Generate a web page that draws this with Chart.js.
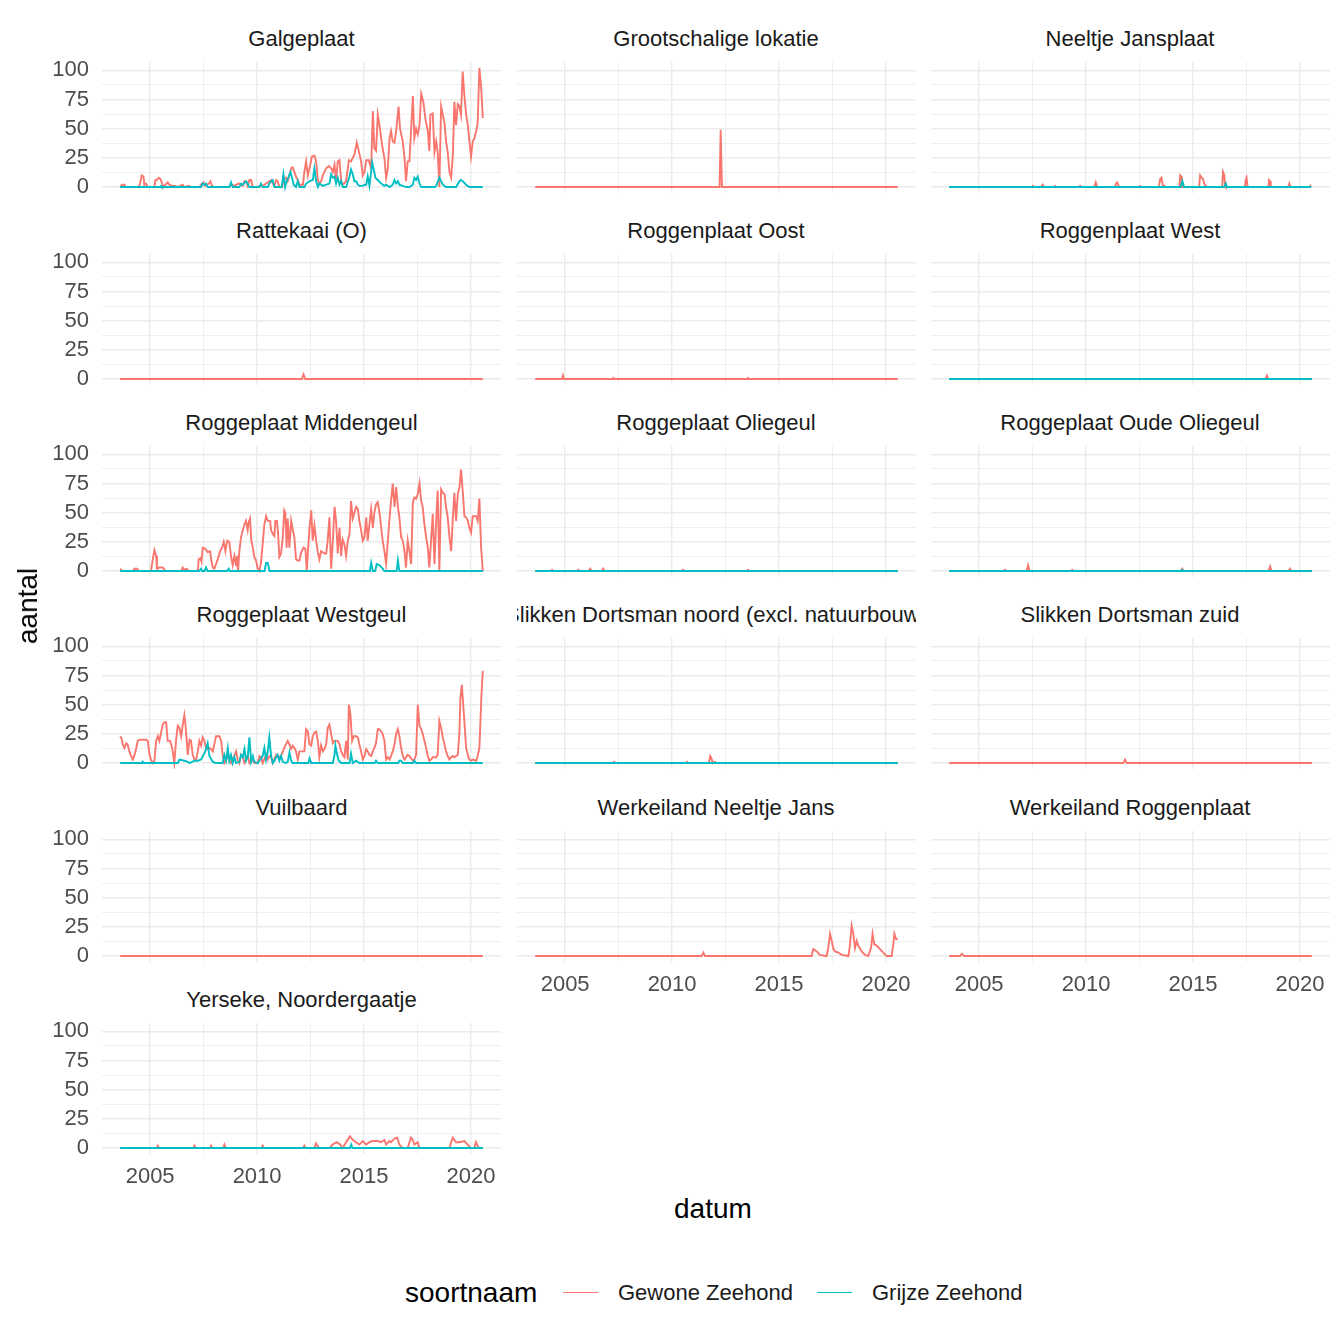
<!DOCTYPE html>
<html>
<head>
<meta charset="utf-8">
<script src="https://cdn.jsdelivr.net/npm/chart.js@4"></script>
<style>
  html, body { margin: 0; padding: 0; background: #fff; }
  body { width: 1344px; height: 1344px; position: relative; overflow: hidden;
         font-family: "Liberation Sans", Arial, sans-serif; }
  .panel { position: absolute; }
  .strip { position: absolute; display: flex; justify-content: center; overflow: hidden;
           white-space: nowrap; font-size: 22px; color: #1A1A1A; height: 26px; line-height: 26px; }
  .txt { position: absolute; white-space: nowrap; }
  .key { position: absolute; height: 0; }
</style>
</head>
<body>
<div id="root"></div>
<script>
// facet names (in ggplot facet order)
const panelNames = [
  "Galgeplaat", "Grootschalige lokatie", "Neeltje Jansplaat",
  "Rattekaai (O)", "Roggenplaat Oost", "Roggenplaat West",
  "Roggeplaat Middengeul", "Roggeplaat Oliegeul", "Roggeplaat Oude Oliegeul",
  "Roggeplaat Westgeul", "Slikken Dortsman noord (excl. natuurbouw)", "Slikken Dortsman zuid",
  "Vuilbaard", "Werkeiland Neeltje Jans", "Werkeiland Roggenplaat",
  "Yerseke, Noordergaatje"
];
const seriesNames = ["Gewone Zeehond", "Grijze Zeehond"];
const seriesColors = ["#F8766D", "#00BFC4"];

const xTicks = [2005, 2007.5, 2010, 2012.5, 2015, 2017.5, 2020];
const yTicks = [0, 12.5, 25, 37.5, 50, 62.5, 75, 87.5, 100];

// [datum (decimal year), aantal]
const galgeplaatGewone = [[2003.60,0],[2003.68,2],[2003.80,2],[2003.88,0],[2004.47,0],[2004.53,3],[2004.61,10],[2004.69,9],[2004.73,2],[2004.81,3],[2004.89,0],[2005.20,0],[2005.25,6],[2005.31,6],[2005.40,8],[2005.48,7],[2005.56,3],[2005.64,0],[2005.71,2],[2005.82,4],[2005.90,2],[2006.03,1],[2006.18,1],[2006.29,0],[2006.52,2],[2006.60,0],[2006.80,1],[2006.91,0],[2007.30,0],[2007.38,2],[2007.49,4],[2007.58,1],[2007.74,3],[2007.82,5],[2007.89,1],[2008.00,0],[2008.70,0],[2008.78,2],[2008.94,1],[2009.02,2],[2009.17,3],[2009.33,1],[2009.41,5],[2009.48,5],[2009.56,1],[2009.64,6],[2009.72,6],[2009.79,0],[2009.95,0],[2010.26,1],[2010.42,3],[2010.57,5],[2010.65,6],[2010.73,3],[2010.81,1],[2010.89,6],[2010.96,5],[2011.04,0],[2011.17,0],[2011.24,6],[2011.35,8],[2011.43,5],[2011.51,10],[2011.59,16],[2011.66,17],[2011.74,13],[2011.82,9],[2011.90,6],[2011.98,2],[2012.14,2],[2012.21,13],[2012.29,22],[2012.37,10],[2012.45,16],[2012.56,26],[2012.68,27],[2012.76,22],[2012.84,6],[2012.91,3],[2012.99,5],[2013.07,10],[2013.23,16],[2013.35,18],[2013.46,16],[2013.54,13],[2013.62,19],[2013.69,5],[2013.77,22],[2013.85,23],[2013.93,5],[2014.00,2],[2014.16,5],[2014.29,23],[2014.39,22],[2014.55,28],[2014.66,38],[2014.75,31],[2014.86,22],[2014.94,10],[2015.02,13],[2015.10,23],[2015.22,23],[2015.33,16],[2015.41,65],[2015.48,33],[2015.56,31],[2015.64,62],[2015.72,53],[2015.80,42],[2015.87,33],[2015.95,25],[2016.03,8],[2016.11,16],[2016.19,42],[2016.26,48],[2016.34,39],[2016.42,38],[2016.50,48],[2016.61,69],[2016.68,50],[2016.81,39],[2016.89,25],[2016.96,5],[2017.04,22],[2017.12,22],[2017.28,78],[2017.35,42],[2017.43,50],[2017.51,45],[2017.59,53],[2017.67,80],[2017.77,73],[2017.87,58],[2017.98,48],[2018.05,31],[2018.10,62],[2018.21,63],[2018.29,30],[2018.37,39],[2018.44,30],[2018.52,0],[2018.60,69],[2018.68,62],[2018.76,55],[2018.83,39],[2018.91,30],[2018.99,13],[2019.07,8],[2019.15,28],[2019.22,73],[2019.30,53],[2019.38,71],[2019.46,69],[2019.53,62],[2019.61,99],[2019.69,78],[2019.77,62],[2019.85,53],[2019.92,40],[2020.00,26],[2020.08,39],[2020.16,42],[2020.24,48],[2020.31,55],[2020.39,102],[2020.47,86],[2020.55,59]];
const galgeplaatGrijze = [[2003.60,0],[2005.47,0],[2005.51,1],[2005.55,0],[2007.38,0],[2007.46,3],[2007.53,2],[2007.61,3],[2007.69,0],[2008.70,0],[2008.78,4],[2008.86,0],[2009.17,0],[2009.25,3],[2009.33,2],[2009.48,5],[2009.56,3],[2009.64,0],[2010.10,0],[2010.18,3],[2010.26,0],[2010.50,0],[2010.57,3],[2010.65,5],[2010.73,6],[2010.81,0],[2011.15,0],[2011.23,11],[2011.31,0],[2011.38,5],[2011.48,9],[2011.56,13],[2011.63,8],[2011.71,2],[2011.82,0],[2011.90,5],[2011.98,0],[2012.21,0],[2012.29,3],[2012.45,5],[2012.60,6],[2012.68,16],[2012.76,5],[2012.84,0],[2012.91,3],[2013.07,1],[2013.23,2],[2013.38,3],[2013.46,11],[2013.54,8],[2013.62,9],[2013.69,3],[2013.77,8],[2013.85,2],[2013.93,5],[2014.00,0],[2014.16,0],[2014.32,9],[2014.39,15],[2014.47,11],[2014.55,5],[2014.63,5],[2014.71,2],[2014.78,1],[2014.94,1],[2015.02,2],[2015.10,2],[2015.17,9],[2015.25,1],[2015.33,13],[2015.38,21],[2015.44,16],[2015.53,8],[2015.64,6],[2015.80,3],[2015.95,1],[2016.03,2],[2016.19,0],[2016.34,2],[2016.42,6],[2016.50,3],[2016.58,5],[2016.65,2],[2016.81,1],[2016.96,0],[2017.12,0],[2017.28,2],[2017.35,8],[2017.43,6],[2017.51,9],[2017.59,3],[2017.67,0],[2018.30,0],[2018.37,1],[2018.52,8],[2018.60,5],[2018.68,2],[2018.83,0],[2019.30,0],[2019.46,5],[2019.53,6],[2019.61,5],[2019.77,2],[2019.92,0],[2020.55,0]];

const grootschaligGewone = [[2003.60,0],[2012.22,0],[2012.27,49],[2012.33,0],[2020.55,0]];

const neeltjeJansplaatGewone = [[2003.60,0],[2007.45,0],[2007.51,1],[2007.57,0],[2007.90,0],[2007.97,2],[2008.05,0],[2008.50,0],[2008.55,1],[2008.60,0],[2009.66,0],[2009.72,1],[2009.78,0],[2010.38,0],[2010.45,4],[2010.52,0],[2011.34,0],[2011.40,3],[2011.45,4],[2011.55,0],[2012.47,0],[2012.52,1],[2012.57,0],[2013.40,0],[2013.46,7],[2013.52,8],[2013.58,2],[2013.66,1],[2013.72,0],[2014.33,0],[2014.36,1],[2014.40,10],[2014.45,9],[2014.48,0],[2015.28,0],[2015.33,10],[2015.40,8],[2015.46,7],[2015.52,3],[2015.60,1],[2015.66,0],[2016.36,0],[2016.40,13],[2016.46,10],[2016.50,1],[2016.53,0],[2017.42,0],[2017.46,6],[2017.50,8],[2017.55,0],[2018.52,0],[2018.55,6],[2018.60,5],[2018.63,0],[2019.44,0],[2019.50,3],[2019.56,0],[2020.45,0],[2020.48,1],[2020.52,0]];
const neeltjeJansplaatGrijze = [[2003.60,0],[2014.42,0],[2014.50,5],[2014.58,0],[2016.45,0],[2016.53,3],[2016.58,0],[2020.52,0]];

const rattekaaiGewone = [[2003.60,0],[2012.10,0],[2012.17,4],[2012.25,0],[2020.55,0]];

const roggenplaatOostGewone = [[2003.60,0],[2004.85,0],[2004.90,3],[2004.95,0],[2007.20,0],[2007.25,1],[2007.30,0],[2013.50,0],[2013.55,1],[2013.60,0],[2020.55,0]];

const roggenplaatWestGewone = [[2003.60,0],[2018.38,0],[2018.45,3],[2018.52,0],[2020.55,0]];
const roggenplaatWestGrijze = [[2003.60,0],[2020.55,0]];

const middengeulGewone = [[2003.60,2],[2003.69,0],[2004.19,0],[2004.27,2],[2004.39,2],[2004.47,0],[2005.04,0],[2005.09,6],[2005.15,13],[2005.20,18],[2005.28,13],[2005.32,2],[2005.43,3],[2005.59,3],[2005.67,1],[2005.75,0],[2006.45,0],[2006.52,3],[2006.60,1],[2006.71,2],[2006.80,0],[2007.23,0],[2007.27,10],[2007.35,11],[2007.40,8],[2007.46,20],[2007.58,19],[2007.69,16],[2007.80,17],[2007.86,9],[2007.93,3],[2008.00,2],[2008.08,6],[2008.16,10],[2008.27,17],[2008.36,20],[2008.44,25],[2008.52,17],[2008.60,26],[2008.70,25],[2008.78,13],[2008.86,5],[2008.94,13],[2009.02,5],[2009.06,13],[2009.11,0],[2009.17,17],[2009.25,29],[2009.33,35],[2009.41,40],[2009.48,43],[2009.56,35],[2009.61,42],[2009.67,45],[2009.73,26],[2009.80,20],[2009.87,12],[2009.95,9],[2010.03,2],[2010.11,0],[2010.18,7],[2010.26,23],[2010.34,40],[2010.42,47],[2010.50,43],[2010.61,43],[2010.65,35],[2010.73,32],[2010.81,30],[2010.85,43],[2010.93,43],[2010.98,32],[2011.04,12],[2011.12,15],[2011.20,29],[2011.27,52],[2011.32,50],[2011.38,20],[2011.43,45],[2011.51,20],[2011.59,43],[2011.66,36],[2011.74,29],[2011.82,10],[2011.90,9],[2011.98,9],[2012.06,16],[2012.17,20],[2012.26,19],[2012.32,0],[2012.37,15],[2012.45,37],[2012.53,52],[2012.60,26],[2012.68,39],[2012.76,26],[2012.84,16],[2012.91,10],[2012.99,17],[2013.15,15],[2013.23,15],[2013.30,26],[2013.38,46],[2013.46,2],[2013.54,26],[2013.62,55],[2013.69,43],[2013.77,15],[2013.85,37],[2013.93,13],[2014.00,27],[2014.08,23],[2014.16,13],[2014.24,26],[2014.32,32],[2014.39,60],[2014.47,45],[2014.63,55],[2014.71,53],[2014.78,43],[2014.86,35],[2014.94,26],[2015.02,29],[2015.10,46],[2015.17,26],[2015.25,40],[2015.33,53],[2015.41,37],[2015.48,50],[2015.56,57],[2015.64,59],[2015.72,50],[2015.80,37],[2015.87,26],[2015.95,17],[2016.03,6],[2016.11,26],[2016.19,45],[2016.26,60],[2016.34,75],[2016.42,55],[2016.50,72],[2016.58,55],[2016.65,46],[2016.73,29],[2016.81,26],[2016.89,17],[2016.96,3],[2017.04,26],[2017.12,17],[2017.20,6],[2017.28,59],[2017.35,63],[2017.43,62],[2017.51,66],[2017.59,75],[2017.67,60],[2017.74,55],[2017.82,40],[2017.90,29],[2017.98,20],[2018.05,3],[2018.13,26],[2018.21,49],[2018.29,6],[2018.37,43],[2018.44,69],[2018.52,0],[2018.60,70],[2018.68,67],[2018.76,66],[2018.83,55],[2018.91,46],[2018.99,29],[2019.07,17],[2019.15,46],[2019.22,67],[2019.30,43],[2019.38,66],[2019.46,72],[2019.53,87],[2019.61,69],[2019.69,47],[2019.77,46],[2019.85,43],[2019.92,37],[2020.00,33],[2020.08,47],[2020.24,47],[2020.31,43],[2020.39,62],[2020.47,20],[2020.55,0]];
const middengeulGrijze = [[2003.60,0],[2007.30,0],[2007.38,2],[2007.43,0],[2007.55,0],[2007.61,3],[2007.69,0],[2008.60,0],[2008.67,2],[2008.72,0],[2010.35,0],[2010.42,7],[2010.50,7],[2010.58,0],[2015.27,0],[2015.33,7],[2015.41,0],[2015.52,0],[2015.59,6],[2015.72,5],[2015.87,2],[2015.95,0],[2016.52,0],[2016.58,9],[2016.65,0],[2020.55,0]];

const oliegeulGewone = [[2003.60,0],[2004.33,0],[2004.39,1],[2004.45,0],[2005.55,0],[2005.61,1],[2005.67,0],[2006.11,0],[2006.17,2],[2006.23,0],[2006.72,0],[2006.78,2],[2006.84,0],[2010.45,0],[2010.51,1],[2010.57,0],[2013.49,0],[2013.55,1],[2013.61,0],[2020.55,0]];
const oliegeulGrijze = [[2003.60,0],[2020.55,0]];

const oudeOliegeulGewone = [[2003.60,0],[2006.15,0],[2006.21,1],[2006.27,0],[2007.22,0],[2007.29,5],[2007.36,0],[2009.29,0],[2009.35,1],[2009.41,0],[2014.43,0],[2014.49,2],[2014.55,0],[2018.53,0],[2018.60,4],[2018.67,0],[2019.47,0],[2019.53,2],[2019.59,0],[2020.55,0]];
const oudeOliegeulGrijze = [[2003.60,0],[2014.43,0],[2014.49,1],[2014.55,0],[2020.55,0]];

const westgeulGewone = [[2003.60,23],[2003.67,21],[2003.72,16],[2003.80,13],[2003.88,17],[2003.95,16],[2004.03,10],[2004.11,6],[2004.19,3],[2004.27,7],[2004.34,12],[2004.42,19],[2004.50,20],[2004.66,20],[2004.81,20],[2004.89,19],[2004.97,7],[2005.04,3],[2005.12,0],[2005.20,2],[2005.28,19],[2005.36,23],[2005.43,19],[2005.51,26],[2005.59,33],[2005.67,35],[2005.75,35],[2005.82,19],[2005.93,19],[2006.03,13],[2006.13,0],[2006.21,19],[2006.29,32],[2006.37,30],[2006.45,23],[2006.52,32],[2006.60,41],[2006.65,33],[2006.71,19],[2006.76,7],[2006.84,20],[2006.91,19],[2006.99,7],[2007.07,3],[2007.15,3],[2007.23,10],[2007.30,19],[2007.38,15],[2007.46,22],[2007.54,19],[2007.61,13],[2007.69,12],[2007.77,13],[2007.85,12],[2007.93,10],[2008.00,16],[2008.08,23],[2008.24,23],[2008.32,19],[2008.39,7],[2008.47,0],[2008.55,3],[2008.63,6],[2008.70,3],[2008.78,0],[2008.86,3],[2009.02,10],[2009.09,3],[2009.17,0],[2009.25,7],[2009.33,5],[2009.41,0],[2009.48,3],[2009.56,7],[2009.64,0],[2009.80,3],[2009.87,0],[2010.03,0],[2010.11,6],[2010.18,5],[2010.26,0],[2010.42,7],[2010.50,3],[2010.57,6],[2010.65,5],[2010.73,0],[2010.89,7],[2010.96,5],[2011.12,6],[2011.27,13],[2011.43,19],[2011.51,16],[2011.59,12],[2011.66,15],[2011.74,13],[2011.82,10],[2011.90,3],[2011.98,10],[2012.21,10],[2012.29,29],[2012.37,27],[2012.45,16],[2012.53,15],[2012.60,23],[2012.68,26],[2012.76,27],[2012.84,19],[2012.91,5],[2012.99,15],[2013.07,10],[2013.15,12],[2013.23,16],[2013.30,30],[2013.38,33],[2013.46,25],[2013.54,17],[2013.62,19],[2013.77,19],[2013.85,16],[2013.93,10],[2014.00,7],[2014.08,5],[2014.16,19],[2014.24,3],[2014.29,50],[2014.36,42],[2014.44,19],[2014.52,23],[2014.63,23],[2014.71,22],[2014.78,16],[2014.86,10],[2014.94,3],[2015.02,6],[2015.10,12],[2015.17,10],[2015.25,7],[2015.33,6],[2015.41,10],[2015.48,13],[2015.56,17],[2015.64,29],[2015.72,29],[2015.80,27],[2015.87,25],[2015.95,19],[2016.03,3],[2016.11,5],[2016.19,3],[2016.26,6],[2016.34,10],[2016.42,16],[2016.50,25],[2016.58,29],[2016.65,23],[2016.73,13],[2016.81,6],[2016.89,3],[2016.96,5],[2017.04,7],[2017.12,6],[2017.28,2],[2017.35,3],[2017.43,7],[2017.51,50],[2017.59,32],[2017.67,29],[2017.74,25],[2017.82,19],[2017.90,13],[2017.98,6],[2018.05,2],[2018.13,3],[2018.21,5],[2018.37,5],[2018.44,7],[2018.52,36],[2018.60,30],[2018.68,22],[2018.76,16],[2018.83,10],[2018.91,6],[2018.99,3],[2019.07,5],[2019.15,6],[2019.22,5],[2019.30,6],[2019.38,7],[2019.46,27],[2019.50,55],[2019.57,67],[2019.61,56],[2019.69,35],[2019.77,13],[2019.85,7],[2019.92,3],[2020.00,2],[2020.08,3],[2020.24,2],[2020.31,6],[2020.39,13],[2020.44,36],[2020.48,56],[2020.55,79]];
const westgeulGrijze = [[2003.60,0],[2004.63,0],[2004.66,1],[2004.73,0],[2006.30,0],[2006.37,3],[2006.60,2],[2006.76,1],[2006.84,0],[2007.07,2],[2007.23,2],[2007.38,3],[2007.58,10],[2007.69,17],[2007.77,6],[2007.93,1],[2008.08,0],[2008.39,0],[2008.47,7],[2008.55,2],[2008.63,13],[2008.70,2],[2008.78,7],[2008.86,0],[2008.94,5],[2009.02,0],[2009.17,1],[2009.25,7],[2009.33,5],[2009.41,12],[2009.48,2],[2009.56,5],[2009.64,22],[2009.72,1],[2009.80,6],[2009.87,1],[2010.03,0],[2010.11,2],[2010.26,6],[2010.34,13],[2010.42,3],[2010.50,10],[2010.57,22],[2010.65,7],[2010.73,0],[2010.81,2],[2010.89,5],[2010.96,7],[2011.04,2],[2011.12,6],[2011.20,1],[2011.35,0],[2011.43,1],[2011.51,9],[2011.59,2],[2011.66,0],[2012.40,0],[2012.45,4],[2012.53,0],[2013.54,0],[2013.62,7],[2013.66,15],[2013.74,7],[2013.82,2],[2013.93,0],[2014.32,0],[2014.39,8],[2014.47,0],[2014.63,2],[2014.78,0],[2015.50,0],[2015.56,2],[2015.64,0],[2016.60,0],[2016.65,2],[2016.73,2],[2016.81,0],[2017.30,0],[2017.35,2],[2017.43,0],[2020.55,0]];

const dortsmanNoordGewone = [[2003.60,0],[2007.23,0],[2007.29,1],[2007.35,0],[2010.64,0],[2010.70,1],[2010.76,0],[2011.72,0],[2011.78,6],[2011.84,4],[2011.90,0],[2012.00,1],[2012.06,0],[2020.55,0]];
const dortsmanNoordGrijze = [[2003.60,0],[2020.55,0]];

const dortsmanZuidGewone = [[2003.60,0],[2011.74,0],[2011.82,3],[2011.90,0],[2020.55,0]];

const vuilbaardGewone = [[2003.60,0],[2020.55,0]];

const werkeilandNJGewone = [[2003.60,0],[2011.38,0],[2011.46,3],[2011.54,0],[2016.52,0],[2016.60,6],[2016.76,4],[2016.91,1],[2017.22,0],[2017.30,7],[2017.38,19],[2017.46,13],[2017.54,6],[2017.61,4],[2017.77,3],[2017.93,1],[2018.24,0],[2018.31,9],[2018.39,26],[2018.47,19],[2018.55,7],[2018.63,13],[2018.70,9],[2018.86,4],[2019.02,1],[2019.17,0],[2019.30,7],[2019.37,19],[2019.45,10],[2019.56,9],[2019.72,6],[2019.87,3],[2020.03,0],[2020.26,0],[2020.34,10],[2020.39,19],[2020.46,15],[2020.54,14]];

const werkeilandRPGewone = [[2003.60,0],[2004.12,0],[2004.20,2],[2004.30,0],[2020.55,0]];

const yersekeGewone = [[2003.60,0],[2005.30,0],[2005.36,2],[2005.42,0],[2007.01,0],[2007.07,2],[2007.13,0],[2007.79,0],[2007.85,2],[2007.91,0],[2008.41,0],[2008.47,3],[2008.53,0],[2010.20,0],[2010.26,2],[2010.32,0],[2012.15,0],[2012.21,2],[2012.27,0],[2012.68,0],[2012.75,4],[2012.90,0],[2013.38,0],[2013.53,3],[2013.72,5],[2013.88,3],[2014.00,0],[2014.23,7],[2014.34,10],[2014.47,7],[2014.62,5],[2014.78,3],[2014.94,6],[2015.09,3],[2015.25,5],[2015.40,6],[2015.64,6],[2015.79,5],[2015.95,7],[2016.03,3],[2016.18,6],[2016.26,5],[2016.41,8],[2016.54,9],[2016.65,3],[2016.80,0],[2017.04,0],[2017.19,9],[2017.27,7],[2017.35,3],[2017.51,5],[2017.58,0],[2018.99,0],[2019.14,9],[2019.30,5],[2019.45,5],[2019.69,6],[2019.84,3],[2020.00,0],[2020.15,0],[2020.23,5],[2020.31,2],[2020.39,0],[2020.55,0]];
const yersekeGrijze = [[2003.60,0],[2014.34,0],[2014.40,3],[2014.46,0],[2020.55,0]];

const panelSeries = [
  [galgeplaatGewone, galgeplaatGrijze],
  [grootschaligGewone, null],
  [neeltjeJansplaatGewone, neeltjeJansplaatGrijze],
  [rattekaaiGewone, null],
  [roggenplaatOostGewone, null],
  [roggenplaatWestGewone, roggenplaatWestGrijze],
  [middengeulGewone, middengeulGrijze],
  [oliegeulGewone, oliegeulGrijze],
  [oudeOliegeulGewone, oudeOliegeulGrijze],
  [westgeulGewone, westgeulGrijze],
  [dortsmanNoordGewone, dortsmanNoordGrijze],
  [dortsmanZuidGewone, null],
  [vuilbaardGewone, null],
  [werkeilandNJGewone, null],
  [werkeilandRPGewone, null],
  [yersekeGewone, yersekeGrijze]
];

Chart.defaults.font.family = '"Liberation Sans", Arial, sans-serif';

const root = document.getElementById("root");
const colLeft = [102, 516.5, 930.5];
const panelW = 399, panelH = 131, rowStep = 192.3, firstTop = 61.5;
const yAxisW = 62, xAxisH = 38, margin = 16;
const bottomPanels = [15, 13, 14];

panelNames.forEach((name, i) => {
  const col = i % 3, row = Math.floor(i / 3);
  const showY = col === 0;
  const showX = bottomPanels.includes(i);
  const top = firstTop + row * rowStep;
  const left = colLeft[col] - (showY ? yAxisW : 0);
  const w = panelW + (showY ? yAxisW : 0);
  const h = margin + panelH + (showX ? xAxisH : margin);

  const strip = document.createElement("div");
  strip.className = "strip";
  strip.style.left = colLeft[col] + "px";
  strip.style.width = panelW + "px";
  strip.style.top = (top - 36) + "px";
  strip.textContent = name;
  root.appendChild(strip);

  const box = document.createElement("div");
  box.className = "panel";
  box.style.left = Math.round(left) + "px";
  box.style.top = Math.round(top - margin) + "px";
  const canvas = document.createElement("canvas");
  canvas.width = Math.round(w);
  canvas.height = Math.round(h);
  box.appendChild(canvas);
  root.appendChild(box);

  const datasets = [];
  panelSeries[i].forEach((pts, s) => {
    if (!pts) return;
    datasets.push({
      label: seriesNames[s],
      data: pts.map(p => ({ x: p[0], y: p[1] })),
      borderColor: seriesColors[s],
      borderWidth: 1.9,
      pointRadius: 0,
      tension: 0,
      fill: false,
      order: s === 0 ? 2 : 1
    });
  });

  new Chart(canvas, {
    type: "line",
    data: { datasets },
    options: {
      responsive: false,
      animation: false,
      layout: { padding: { top: margin, bottom: showX ? 0 : margin, left: 0, right: 0 }, autoPadding: false },
      plugins: { legend: { display: false }, tooltip: { enabled: false } },
      scales: {
        x: {
          type: "linear",
          min: 2002.75,
          max: 2021.4,
          afterBuildTicks: s => { s.ticks = xTicks.map(v => ({ value: v })); },
          afterFit: s => { s.height = showX ? xAxisH : 0; s.paddingLeft = 0; s.paddingRight = 0; },
          border: { display: false },
          grid: {
            color: "#EBEBEB",
            lineWidth: c => (c.tick && c.tick.value % 5 === 0 ? 1.4 : 0.8),
            drawTicks: false
          },
          ticks: {
            display: showX,
            autoSkip: false,
            maxRotation: 0,
            padding: 10,
            color: "#4D4D4D",
            font: { size: 22 },
            callback: v => (v % 5 === 0 ? String(v) : "")
          }
        },
        y: {
          min: -5.1,
          max: 107.1,
          afterBuildTicks: s => { s.ticks = yTicks.map(v => ({ value: v })); },
          afterFit: s => { s.width = showY ? yAxisW : 0; s.paddingTop = 0; s.paddingBottom = 0; },
          border: { display: false },
          grid: {
            color: "#EBEBEB",
            lineWidth: c => (c.tick && c.tick.value % 25 === 0 ? 1.4 : 0.8),
            drawTicks: false
          },
          ticks: {
            display: showY,
            autoSkip: false,
            padding: 13,
            color: "#4D4D4D",
            font: { size: 22 },
            callback: v => (v % 25 === 0 ? String(v) : "")
          }
        }
      }
    }
  });
});

// axis titles and legend
function addText(text, css) {
  const d = document.createElement("div");
  d.className = "txt";
  d.textContent = text;
  Object.assign(d.style, css);
  root.appendChild(d);
  return d;
}
addText("datum", { left: "674px", top: "1193px", fontSize: "28px", color: "#000" });
addText("aantal", { left: "28px", top: "606px", fontSize: "28px", color: "#000",
  transform: "translate(-50%, -50%) rotate(-90deg)" });
addText("soortnaam", { left: "405px", top: "1277px", fontSize: "28px", color: "#000" });
const legendX = [[563, 618], [817, 872]];
seriesNames.forEach((n, s) => {
  const k = document.createElement("div");
  k.className = "key";
  Object.assign(k.style, { left: legendX[s][0] + "px", top: "1292px", width: "35px",
    borderTop: "1.9px solid " + seriesColors[s] });
  root.appendChild(k);
  addText(n, { left: legendX[s][1] + "px", top: "1280px", fontSize: "22px", color: "#1A1A1A" });
});
</script>
</body>
</html>
